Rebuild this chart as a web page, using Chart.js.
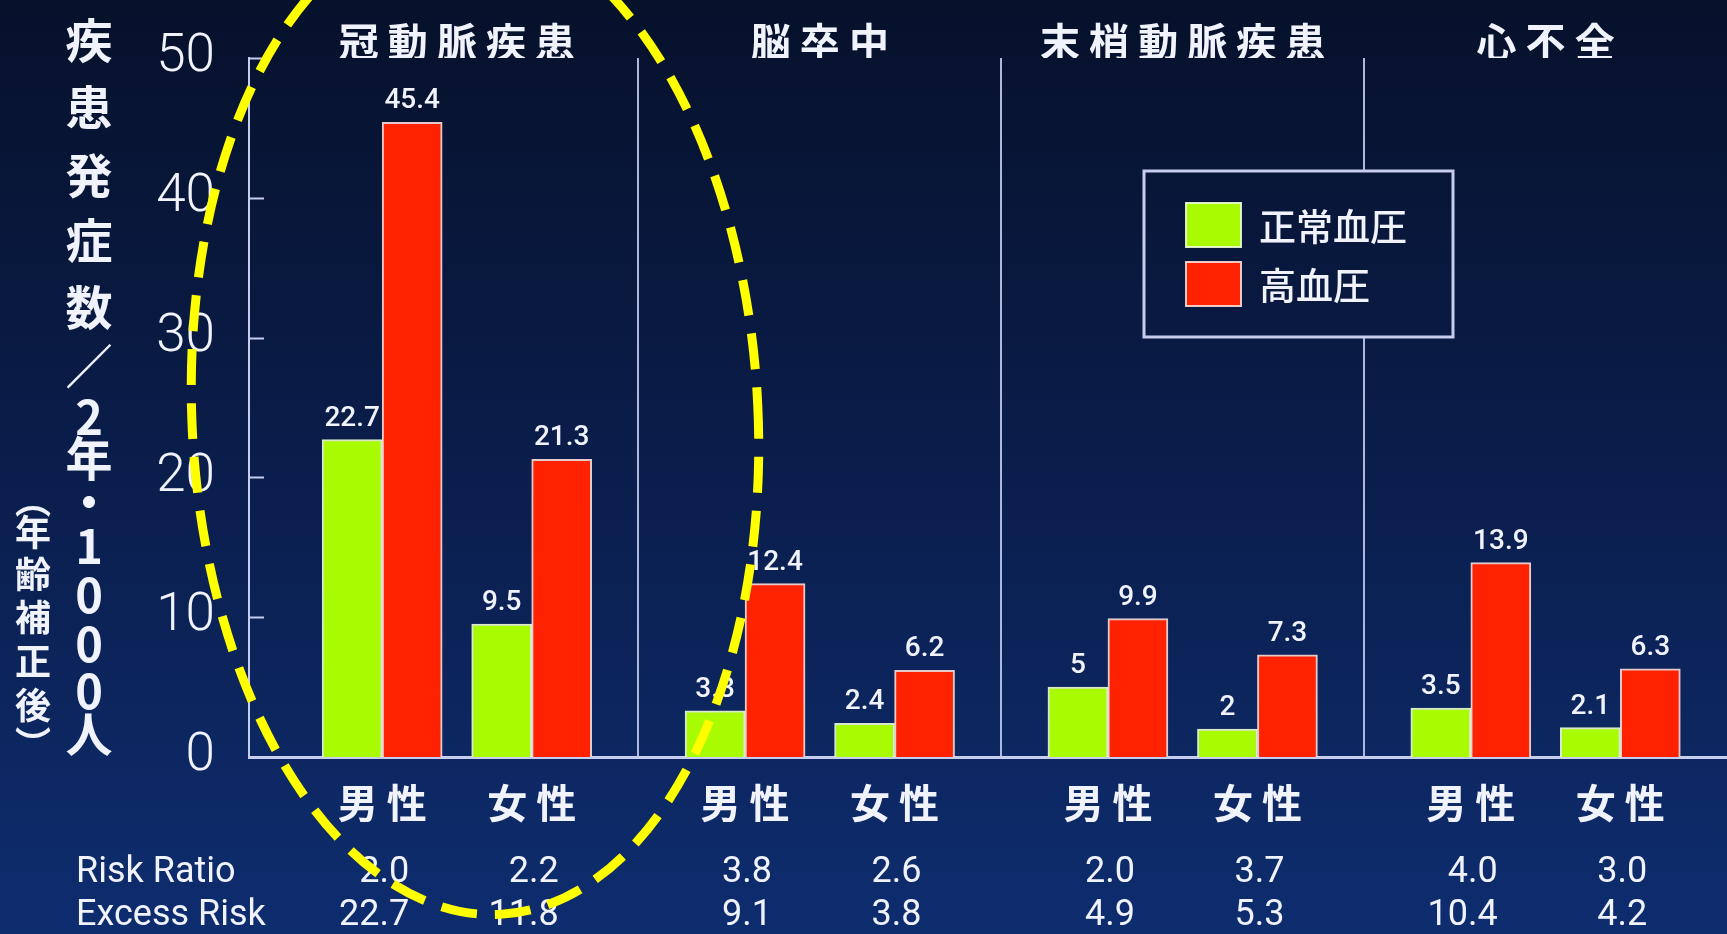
<!DOCTYPE html>
<html lang="ja">
<head>
<meta charset="utf-8">
<title>高血圧と疾患発症数</title>
<script src="https://cdn.jsdelivr.net/npm/chart.js@4.4.1/dist/chart.umd.min.js"></script>
<style>
  html, body { margin: 0; padding: 0; overflow: hidden; background: #0a1c47; }
  #contenedor { position: relative; width: 1727px; height: 934px; }
</style>
</head>
<body>
<div id="contenedor"><canvas id="grafico"></canvas></div>
<script>
// datos del grafico
const enfermedades = ['冠動脈疾患', '脳卒中', '末梢動脈疾患', '心不全'];
const sexos = ['男性', '女性'];
const normal = [22.7, 9.5, 3.3, 2.4, 5, 2, 3.5, 2.1];
const hipertension = [45.4, 21.3, 12.4, 6.2, 9.9, 7.3, 13.9, 6.3];
const riskRatio = ['2.0', '2.2', '3.8', '2.6', '2.0', '3.7', '4.0', '3.0'];
const excessRisk = ['22.7', '11.8', '9.1', '3.8', '4.9', '5.3', '10.4', '4.2'];
const ticksY = [0, 10, 20, 30, 40, 50];
const filasRiesgo = ['Risk Ratio', 'Excess Risk'];

// cada enfermedad ocupa una unidad en el eje x, 男性 y 女性 a cada lado del centro
const SEPARACION = 0.412;
const posX = i => Math.floor(i / 2) + (i % 2 - 0.5) * SEPARACION;
const rangoX = { min: -0.573, max: 3.5 };

const BLANCO = '#f1f3fc';
const LINEA = '#c6cdee';

// degradado del fondo (tambien se usa dentro de la leyenda)
function degradado(ctx, alto) {
  const g = ctx.createLinearGradient(0, 0, 0, alto);
  g.addColorStop(0, '#06112b');
  g.addColorStop(0.45, '#0a1c48');
  g.addColorStop(1, '#0e2d6f');
  return g;
}

const fondo = {
  id: 'fondo',
  beforeDraw(chart) {
    const { ctx, width, height } = chart;
    ctx.save();
    ctx.fillStyle = degradado(ctx, height);
    ctx.fillRect(0, 0, width, height);
    ctx.restore();
  }
};

// marquitas del eje y hacia adentro
const marcasY = {
  id: 'marcasY',
  afterDatasetsDraw(chart) {
    const { ctx, chartArea } = chart;
    const y = chart.scales.y;
    ctx.save();
    ctx.strokeStyle = LINEA;
    ctx.lineWidth = 2;
    y.ticks.forEach(t => {
      const py = Math.round(y.getPixelForValue(t.value)) + 0.5;
      ctx.beginPath();
      ctx.moveTo(chartArea.left, py);
      ctx.lineTo(chartArea.left + 15, py);
      ctx.stroke();
    });
    ctx.restore();
  }
};

// numeros encima de cada barra
const valores = {
  id: 'valores',
  afterDatasetsDraw(chart) {
    const { ctx } = chart;
    ctx.save();
    ctx.fillStyle = BLANCO;
    ctx.font = '500 28px Roboto, "Liberation Sans", sans-serif';
    ctx.textAlign = 'center';
    ctx.textBaseline = 'bottom';
    chart.data.datasets.forEach((ds, d) => {
      chart.getDatasetMeta(d).data.forEach((barra, i) => {
        ctx.fillText(String(ds.data[i].y), barra.x, barra.y - 7);
      });
    });
    ctx.restore();
  }
};

// leyenda con recuadro
const leyenda = {
  id: 'leyenda',
  afterDraw(chart) {
    const { ctx, height } = chart;
    const caja = { x: 1144, y: 171, w: 309, h: 166 };
    ctx.save();
    ctx.fillStyle = degradado(ctx, height);
    ctx.fillRect(caja.x, caja.y, caja.w, caja.h);
    ctx.strokeStyle = LINEA;
    ctx.lineWidth = 3;
    ctx.strokeRect(caja.x, caja.y, caja.w, caja.h);
    ctx.font = '500 37px "Noto Sans CJK JP", sans-serif';
    ctx.textBaseline = 'middle';
    chart.data.datasets.forEach((ds, d) => {
      const top = 203 + d * 59;
      ctx.fillStyle = ds.backgroundColor;
      ctx.fillRect(1186, top, 55, 44);
      ctx.strokeStyle = ds.borderColor;
      ctx.lineWidth = 2;
      ctx.strokeRect(1186, top, 55, 44);
      ctx.fillStyle = BLANCO;
      ctx.fillText(ds.label, 1259, top + 24);
    });
    ctx.restore();
  }
};

// titulo vertical del eje y, letra por letra
const columnaTitulo = [['疾', 40], ['患', 107], ['発', 175], ['症', 240], ['数', 307], ['／', 366],
  ['2', 417], ['年', 458], ['・', 502], ['1', 546], ['0', 595], ['0', 644], ['0', 691], ['人', 734]];
const columnaNota = [['︵', 500], ['年', 532], ['齢', 574], ['補', 617], ['正', 661], ['後', 705], ['︶', 744]];
const tituloY = {
  id: 'tituloY',
  afterDraw(chart) {
    const { ctx } = chart;
    ctx.save();
    ctx.fillStyle = BLANCO;
    ctx.textAlign = 'center';
    ctx.textBaseline = 'middle';
    ctx.font = 'bold 47px "Noto Sans CJK JP", sans-serif';
    columnaTitulo.forEach(([c, y]) => ctx.fillText(c, 89, y));
    ctx.font = 'bold 36px "Noto Sans CJK JP", sans-serif';
    columnaNota.forEach(([c, y]) => ctx.fillText(c, 33, y));
    ctx.restore();
  }
};

// filas de Risk Ratio y Excess Risk debajo del eje
const riesgo = {
  id: 'riesgo',
  afterDraw(chart) {
    const { ctx } = chart;
    const x = chart.scales.x;
    const filas = [riskRatio, excessRisk];
    ctx.save();
    ctx.fillStyle = BLANCO;
    ctx.font = '400 36px Roboto, "Liberation Sans", sans-serif';
    ctx.textBaseline = 'middle';
    filas.forEach((fila, f) => {
      const y = 873 + f * 43;
      ctx.textAlign = 'left';
      ctx.fillText(filasRiesgo[f], 76, y);
      ctx.textAlign = 'right';
      fila.forEach((txt, i) => ctx.fillText(txt, x.getPixelForValue(posX(i)) + 27, y));
    });
    ctx.restore();
  }
};

// elipse amarilla punteada que marca el primer grupo
const elipse = {
  id: 'elipse',
  afterDraw(chart) {
    const { ctx } = chart;
    ctx.save();
    ctx.strokeStyle = '#ffff00';
    ctx.lineWidth = 9;
    ctx.setLineDash([36, 18]);
    ctx.beginPath();
    ctx.ellipse(475, 417, 283, 498, -0.05, 0, Math.PI * 2);
    ctx.stroke();
    ctx.restore();
  }
};

const fuenteCJK = { family: '"Noto Sans CJK JP", sans-serif', size: 40, weight: 'bold', lineHeight: 1 };

new Chart(document.getElementById('grafico'), {
  type: 'bar',
  data: {
    datasets: [{
      label: '正常血圧',
      data: normal.map((v, i) => ({ x: posX(i), y: v })),
      backgroundColor: '#a8fb00',
      borderColor: 'rgba(238,255,215,0.9)',
      borderWidth: 2,
      borderSkipped: 'bottom',
      barThickness: 60,
      xAxisID: 'x'
    }, {
      label: '高血圧',
      data: hipertension.map((v, i) => ({ x: posX(i), y: v })),
      backgroundColor: '#ff2200',
      borderColor: 'rgba(255,222,215,0.9)',
      borderWidth: 2,
      borderSkipped: 'bottom',
      barThickness: 60,
      xAxisID: 'x'
    }]
  },
  options: {
    responsive: true,
    maintainAspectRatio: false,
    animation: false,
    layout: { padding: 0 },
    plugins: {
      legend: { display: false },
      tooltip: { enabled: false }
    },
    scales: {
      x: {
        type: 'linear', axis: 'x', position: 'bottom', ...rangoX, offset: false,
        afterBuildTicks: s => { s.ticks = normal.map((_, i) => ({ value: posX(i) })); },
        afterFit: s => { s.height = 177; },
        ticks: {
          autoSkip: false, maxRotation: 0, padding: 26, color: BLANCO, font: fuenteCJK,
          callback: (v, i) => sexos[i % 2].split('').join(' ')
        },
        grid: { display: false, drawTicks: false, offset: false },
        border: { display: true, color: LINEA, width: 3 }
      },
      titulos: {
        type: 'linear', axis: 'x', position: 'top', ...rangoX, offset: false,
        afterBuildTicks: s => { s.ticks = enfermedades.map((_, i) => ({ value: i })); },
        afterFit: s => { s.height = 58; },
        ticks: {
          autoSkip: false, maxRotation: 0, padding: -4, color: BLANCO, font: fuenteCJK,
          callback: (v, i) => enfermedades[i].split('').join(' ')
        },
        grid: { display: false, drawTicks: false, offset: false },
        border: { display: false }
      },
      separadores: {
        type: 'linear', axis: 'x', position: 'top', ...rangoX, offset: false,
        afterBuildTicks: s => { s.ticks = enfermedades.slice(1).map((_, i) => ({ value: i + 0.5 })); },
        afterFit: s => { s.height = 0; },
        ticks: { display: false },
        grid: { color: '#aeb7dc', lineWidth: 2, drawTicks: false, offset: false },
        border: { display: false }
      },
      y: {
        min: 0, max: 50,
        afterBuildTicks: s => { s.ticks = ticksY.map(v => ({ value: v })); },
        // el ancho fijo deja el eje en su sitio; sin relleno extra arriba ni abajo
        afterFit: s => { s.width = 249; s.paddingTop = 0; s.paddingBottom = 0; },
        ticks: {
          padding: 34, color: BLANCO,
          font: { family: 'Roboto, "Liberation Sans", sans-serif', size: 53, weight: 300 }
        },
        grid: { display: false, drawTicks: false },
        border: { display: true, color: LINEA, width: 2 }
      }
    }
  },
  plugins: [fondo, marcasY, valores, leyenda, tituloY, riesgo, elipse]
});
</script>
</body>
</html>
